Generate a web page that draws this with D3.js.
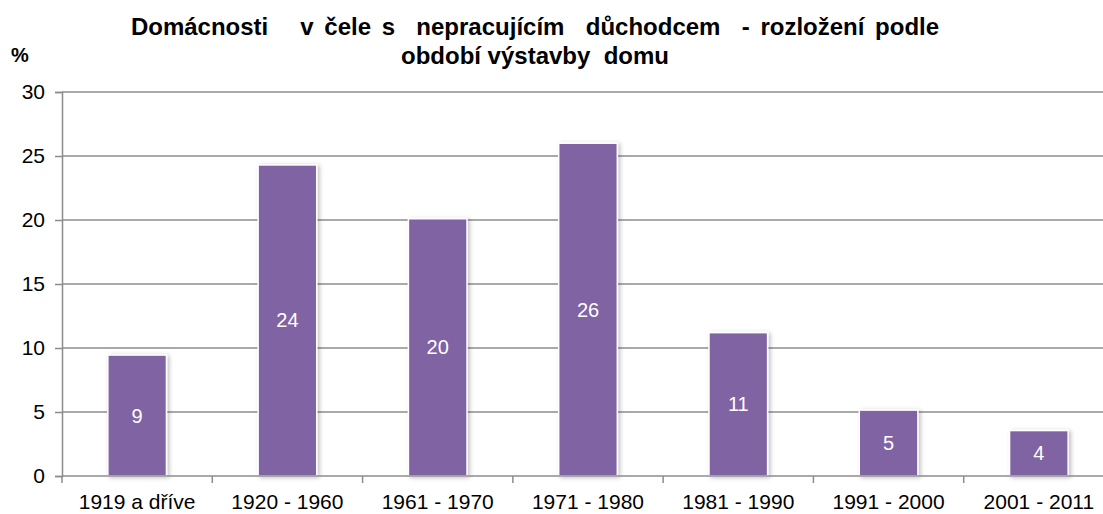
<!DOCTYPE html>
<html>
<head>
<meta charset="utf-8">
<script src="https://cdn.jsdelivr.net/npm/d3@7"></script>
<style>
  body { margin: 0; background: #fff; }
  text { font-family: "Liberation Sans", Arial, sans-serif; }
</style>
</head>
<body>
<div class="chart"></div>
<script>
var categories = ['1919 a dříve', '1920 - 1960', '1961 - 1970', '1971 - 1980', '1981 - 1990', '1991 - 2000', '2001 - 2011']
var values = [9.45, 24.3, 20.1, 26.0, 11.2, 5.15, 3.55]
var yTicks = [0, 5, 10, 15, 20, 25, 30]
var titleLines = ['Domácnosti   v čele s  nepracujícím  důchodcem  - rozložení podle', 'období výstavby  domu']

var W = 1103, H = 514
var margin = {top: 92, right: -11, bottom: 38, left: 62}
var width = W - margin.left - margin.right
var height = H - margin.top - margin.bottom

var svg = d3.select('.chart')
  .append('svg')
  .attr('width', W)
  .attr('height', H)

var defs = svg.append('defs')
var f = defs.append('filter').attr('id', 'shadow')
  .attr('x', '-20%').attr('y', '-20%').attr('width', '140%').attr('height', '140%')
f.append('feDropShadow')
  .attr('dx', 2).attr('dy', 1).attr('stdDeviation', 2)
  .attr('flood-color', '#000').attr('flood-opacity', 0.25)

var g = svg.append('g').attr('transform', 'translate(' + margin.left + ',' + margin.top + ')')

var x = d3.scaleBand().domain(categories).range([0, width]).paddingInner(0.61).paddingOuter(0.305)
var y = d3.scaleLinear().domain([0, 30]).range([height, 0])

// gridlines
g.selectAll('.grid')
  .data(yTicks.slice(1))
  .enter().append('line')
  .attr('x1', 0).attr('x2', width)
  .attr('y1', function(d) { return y(d) }).attr('y2', function(d) { return y(d) })
  .attr('stroke', '#8c8c8c').attr('stroke-width', 1.5)

// y axis
var yAxis = g.append('g').call(d3.axisLeft(y).tickValues(yTicks).tickSize(7).tickPadding(10))
yAxis.select('.domain').attr('stroke', '#8c8c8c').attr('stroke-width', 1.5)
yAxis.selectAll('.tick line').attr('stroke', '#8c8c8c').attr('stroke-width', 1.5)
yAxis.selectAll('.tick text').attr('font-size', 21).attr('fill', '#000')
  .style('font-family', '"Liberation Sans", Arial, sans-serif')

// bars
g.selectAll('.bar')
  .data(values)
  .enter().append('rect')
  .attr('x', function(d, i) { return x(categories[i]) })
  .attr('y', function(d) { return y(d) })
  .attr('width', x.bandwidth())
  .attr('height', function(d) { return height - y(d) })
  .attr('fill', '#8064a2')
  .attr('stroke', '#fff')
  .attr('stroke-width', 1.5)
  .attr('filter', 'url(#shadow)')

// x axis
var step = x.step()
var xb = g.append('g').attr('transform', 'translate(0,' + height + ')')
xb.append('line').attr('x1', 0).attr('x2', width).attr('stroke', '#8c8c8c').attr('stroke-width', 1.5)
xb.selectAll('.xtick')
  .data(d3.range(categories.length + 1))
  .enter().append('line')
  .attr('x1', function(d) { return d * step }).attr('x2', function(d) { return d * step })
  .attr('y1', 0).attr('y2', 7)
  .attr('stroke', '#8c8c8c').attr('stroke-width', 1.5)
xb.selectAll('.xlab')
  .data(categories)
  .enter().append('text')
  .attr('x', function(d) { return x(d) + x.bandwidth() / 2 })
  .attr('y', 33)
  .attr('text-anchor', 'middle')
  .attr('font-size', 21)
  .text(function(d) { return d })

// value labels
g.selectAll('.val')
  .data(values)
  .enter().append('text')
  .attr('x', function(d, i) { return x(categories[i]) + x.bandwidth() / 2 })
  .attr('y', function(d) { return (y(d) + height) / 2 })
  .attr('dy', '0.35em')
  .attr('text-anchor', 'middle')
  .attr('font-size', 20)
  .attr('fill', '#fff')
  .text(function(d) { return Math.round(d) })

// title
svg.selectAll('.title')
  .data(titleLines)
  .enter().append('text')
  .attr('x', 535)
  .attr('y', function(d, i) { return 35 + i * 29 })
  .attr('text-anchor', 'middle')
  .attr('font-size', 24)
  .attr('font-weight', 'bold')
  .attr('word-spacing', function(d, i) { return i === 0 ? 4 : 0 })
  .style('white-space', 'pre')
  .text(function(d) { return d })

svg.append('text')
  .attr('x', 11).attr('y', 62)
  .attr('font-size', 20).attr('font-weight', 'bold')
  .text('%')
</script>
</body>
</html>
